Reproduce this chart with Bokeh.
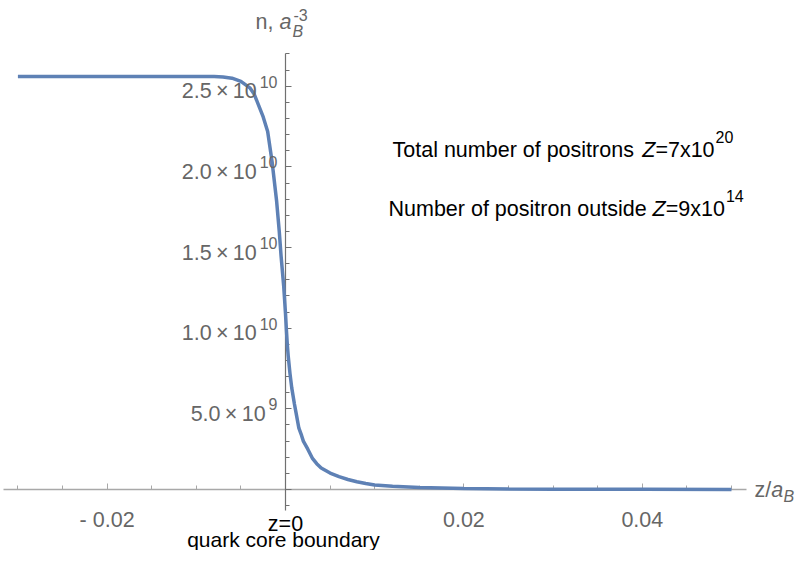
from bokeh.plotting import figure
from bokeh.models import Range1d, SingleIntervalTicker
from bokeh.core.properties import value
from bokeh.embed import file_html
from bokeh.resources import INLINE

# ---- data ----
z_vals = [-0.030, -0.020, -0.010, -0.008, -0.007, -0.006, -0.005, -0.004, -0.0035,
          -0.003, -0.0025, -0.002, -0.0015, -0.001, -0.0007, -0.0005, -0.0002, 0.0,
          0.0001, 0.0002, 0.0003, 0.0005, 0.0007, 0.001, 0.0012, 0.0015, 0.0018,
          0.002, 0.0025, 0.003, 0.0035, 0.004, 0.005, 0.006, 0.007, 0.008, 0.009,
          0.010, 0.012, 0.015, 0.020, 0.025, 0.030, 0.040, 0.050]
n_vals = [25.6e9, 25.6e9, 25.6e9, 25.6e9, 25.57e9, 25.5e9, 25.3e9, 24.9e9, 24.5e9,
          23.8e9, 23.1e9, 22.2e9, 20.3e9, 17.9e9, 16.0e9, 14.5e9, 12.6e9, 10.9e9,
          9.9e9, 9.0e9, 8.3e9, 7.2e9, 6.3e9, 5.3e9, 4.7e9, 3.8e9, 3.35e9,
          3.0e9, 2.5e9, 1.95e9, 1.6e9, 1.33e9, 1.02e9, 0.8e9, 0.62e9, 0.48e9, 0.37e9,
          0.28e9, 0.2e9, 0.12e9, 0.06e9, 0.03e9, 0.02e9, 0.01e9, 0.005e9]

x_tick_vals = [-0.02, 0.02, 0.04]
x_tick_text = ["- 0.02", "0.02", "0.04"]
y_tick_vals = [5e9, 1e10, 1.5e10, 2e10, 2.5e10]
y_tick_mant = ["5.0\u2009\u00d7\u200910", "1.0\u2009\u00d7\u200910", "1.5\u2009\u00d7\u200910",
               "2.0\u2009\u00d7\u200910", "2.5\u2009\u00d7\u200910"]
y_tick_exp = ["9", "10", "10", "10", "10"]

# ---- geometry ----
W, H = 796, 550
OX, OY = 285, 489          # pixel of the origin
XS = 8920.0                # px per x unit
YS = 16.13e-9              # px per y unit
BC = -6                    # baseline correction for svg text


def dx(px):
    return (px - OX) / XS


def dy(py):
    return (OY - py) / YS


FONT = value("Liberation Sans")
GRAY = "#666666"
FS = 21.5
SUP = 16

AW = {' ': 278, 'T': 611, 'o': 556, 't': 278, 'a': 556, 'l': 222, 'n': 556, 'u': 556,
      'm': 833, 'b': 556, 'e': 556, 'r': 333, 'f': 278, 'p': 556, 's': 500, 'i': 222,
      'd': 556, 'Z': 611, '=': 584, 'x': 500, 'N': 722, ',': 278, '/': 278, 'z': 500}


def tw(s, size):
    return sum(AW.get(c, 556) for c in s) * size / 1000.0


p = figure(width=W, height=H, output_backend="svg", toolbar_location=None,
           x_range=Range1d(dx(0), dx(W)), y_range=Range1d(dy(H), dy(0)),
           min_border=0)
p.outline_line_color = None
p.grid.visible = False

# axes crossing at the origin
p.xaxis.fixed_location = 0
p.yaxis.fixed_location = 0
p.xaxis.ticker = SingleIntervalTicker(interval=0.02, num_minor_ticks=4)
p.yaxis.ticker = SingleIntervalTicker(interval=5e9, num_minor_ticks=5)
p.xaxis.bounds = (dx(3), dx(746))
p.yaxis.bounds = (-1.3e9, 2.7e10)
p.xaxis.major_label_overrides = {-0.02: "", 0: "", 0.02: "", 0.04: ""}
p.yaxis.major_label_overrides = {0: "", 5e9: "", 1e10: "", 1.5e10: "", 2e10: "", 2.5e10: ""}
for ax, col, w in ((p.xaxis, "#a8a8a8", 1.6), (p.yaxis, "#707070", 1.2)):
    ax.axis_line_color = col
    ax.axis_line_width = w
    ax.major_tick_line_color = col
    ax.minor_tick_line_color = col
    ax.major_tick_in = 6
    ax.major_tick_out = 0
    ax.minor_tick_in = 4
    ax.minor_tick_out = 0
    ax.level = "underlay"

# the curve
p.line(z_vals, n_vals, line_color="#5E81B5", line_width=3.5)

# x tick labels
p.text(x=x_tick_vals, y=[0] * len(x_tick_vals), text=x_tick_text, text_font=FONT,
       text_font_size=f"{FS}px", text_color=GRAY, text_align="center",
       text_baseline="alphabetic", y_offset=36 + BC)

# y tick labels: mantissa and exponent
sup_w = [tw(e, SUP) for e in y_tick_exp]
p.text(x=[0] * len(y_tick_vals), y=y_tick_vals, text=y_tick_mant, text_font=FONT,
       text_font_size=f"{FS}px", text_color=GRAY, text_align="right",
       text_baseline="alphabetic", x_offset=[-(8 + w + 3) for w in sup_w], y_offset=11 + BC)
p.text(x=[0] * len(y_tick_vals), y=y_tick_vals, text=y_tick_exp, text_font=FONT,
       text_font_size=f"{SUP}px", text_color=GRAY, text_align="right",
       text_baseline="alphabetic", x_offset=-8, y_offset=1.5 + BC)


def put(px, py, s, size=FS, color="black", style="normal", align="left"):
    p.text(x=[dx(px)], y=[dy(py + BC)], text=[s], text_font=FONT, text_font_size=f"{size}px",
           text_color=color, text_font_style=style, text_align=align,
           text_baseline="alphabetic")


# axis labels
put(255, 27, "n, ", color=GRAY)
put(255 + tw("n, ", FS), 27, "a", color=GRAY, style="italic")
put(292, 37, "B", size=SUP, color=GRAY, style="italic")
put(293, 20, "-3", size=SUP, color=GRAY)

put(754, 495, "z/", color=GRAY)
put(754 + tw("z/", FS), 495, "a", color=GRAY, style="italic")
put(783, 502, "B", size=SUP, color=GRAY, style="italic")

# annotations
for x0, base, lead, tail, expo in ((392, 155, "Total number of positrons ", "=7x10", "20"),
                                   (388, 214, "Number of positron outside ", "=9x10", "14")):
    put(x0, base, lead)
    x1 = x0 + tw(lead, FS)
    put(x1, base, "Z", style="italic")
    x2 = x1 + tw("Z", FS)
    put(x2, base, tail)
    x3 = x2 + tw(tail, FS) + 1
    put(x3, base - 13, expo, size=SUP)

put(285, 529, "z=0", align="center")
put(283, 545, "quark core boundary", size=21, align="center")

open("out.html", "w").write(file_html(p, INLINE))
